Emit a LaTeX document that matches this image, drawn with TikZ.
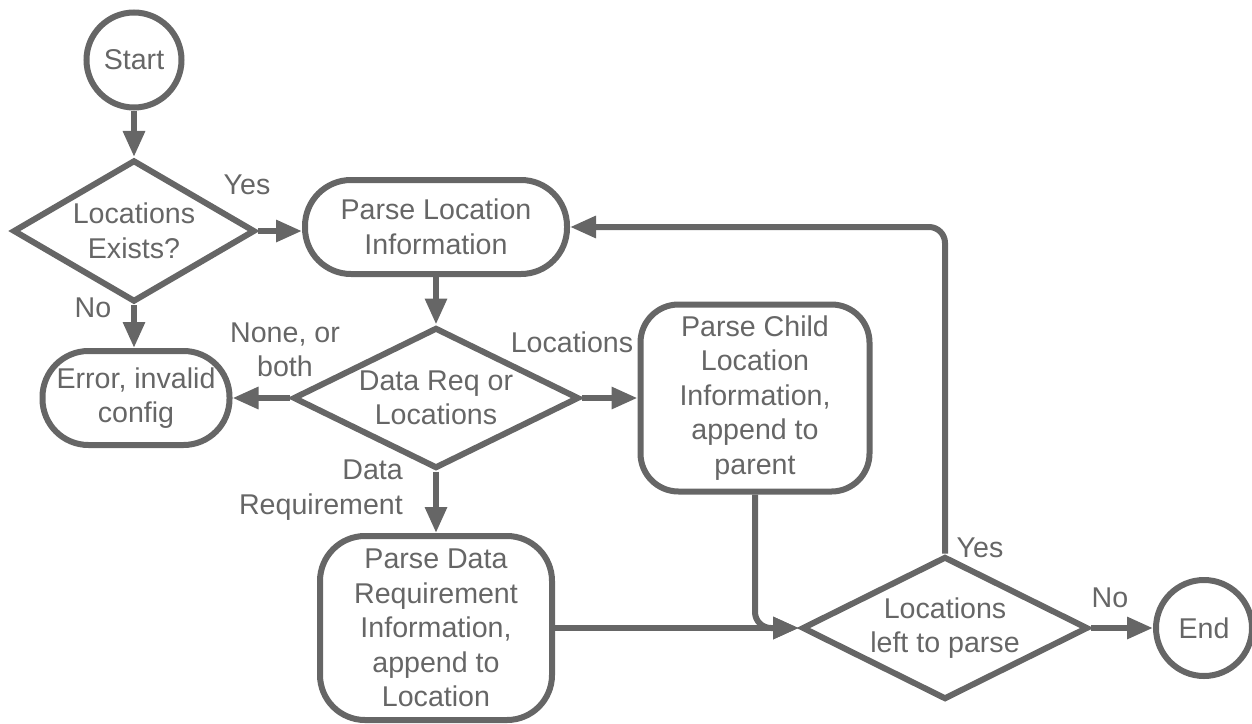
\documentclass[tikz,border=0pt]{standalone}
\usepackage{fontspec}
\setmainfont{Liberation Sans}
\usetikzlibrary{shapes.geometric,arrows.meta}
\definecolor{ink}{HTML}{666666}

\begin{document}
\begin{tikzpicture}[x=1pt,y=-1pt]
        \tikzstyle{every node}=[text=ink,font=\fontsize{28.6}{34.5}\selectfont,align=center,inner sep=0pt]
        \tikzstyle{term}=[circle,draw=ink,line width=6pt,minimum size=95pt]
        \tikzstyle{proc}=[rectangle,draw=ink,line width=6pt,rounded corners=46pt]
        \tikzstyle{dec}=[diamond,draw=ink,line width=6pt,aspect=2]
        \tikzstyle{flow}=[draw=ink,line width=6pt,-{Triangle[length=26pt,width=21pt]}]
        \useasboundingbox (0,0) rectangle (1252,723);
        \node[term] (start) at (134,60) {Start};
        \node[dec,aspect=1.7,minimum width=242pt,minimum height=142pt] (exists) at (134,231) {Locations\\Exists?};
        \node[proc,minimum width=262pt,minimum height=94pt] (parse) at (436,227) {Parse Location\\Information};
        \node[proc,minimum width=187pt,minimum height=94pt] (error) at (136,398) {Error, invalid\\config};
        \node[dec,minimum width=286pt,minimum height=141pt] (kind) at (436,398) {Data Req or\\Locations};
        \node[proc,rounded corners=38pt,minimum width=229pt,minimum height=187pt] (child) at (755,398) {Parse Child\\Location\\Information,\\append to\\parent};
        \node[proc,rounded corners=45pt,minimum width=232pt,minimum height=184pt] (datareq) at (436,628) {Parse Data\\Requirement\\Information,\\append to\\Location};
        \node[dec,minimum width=286pt,minimum height=143pt] (left) at (945,628) {Locations\\left to parse};
        \node[term,minimum size=96pt] (end) at (1204,628) {End};
        \draw[flow] (start) -- (exists);
        \draw[flow] (exists.east) -- (exists.east -| parse.west);
        \draw[flow] (exists.south) -- (exists.south |- error.north);
        \draw[flow] (parse) -- (kind);
        \draw[flow] (kind) -- (error);
        \draw[flow] (kind) -- (child);
        \draw[flow] (kind) -- (datareq);
        \draw[flow] (datareq.east) -- (left.west);
        \draw[flow,rounded corners=16pt] (child.south) |- (left.west);
        \draw[flow,rounded corners=16pt] (left.north) |- (parse.east);
        \draw[flow] (left) -- (end);
        \node (yes1) at (247,185) {Yes};
        \node (no1) at (93,308) {No};
        \node (none) at (285,350) {None, or\\both};
        \node (locs) at (572,342) {Locations};
        \node[anchor=east,align=right] (dreq) at (403,490) {Data\\Requirement};
        \node (yes2) at (980,548) {Yes};
        \node (no2) at (1110,598) {No};
      \end{tikzpicture}
\end{document}
